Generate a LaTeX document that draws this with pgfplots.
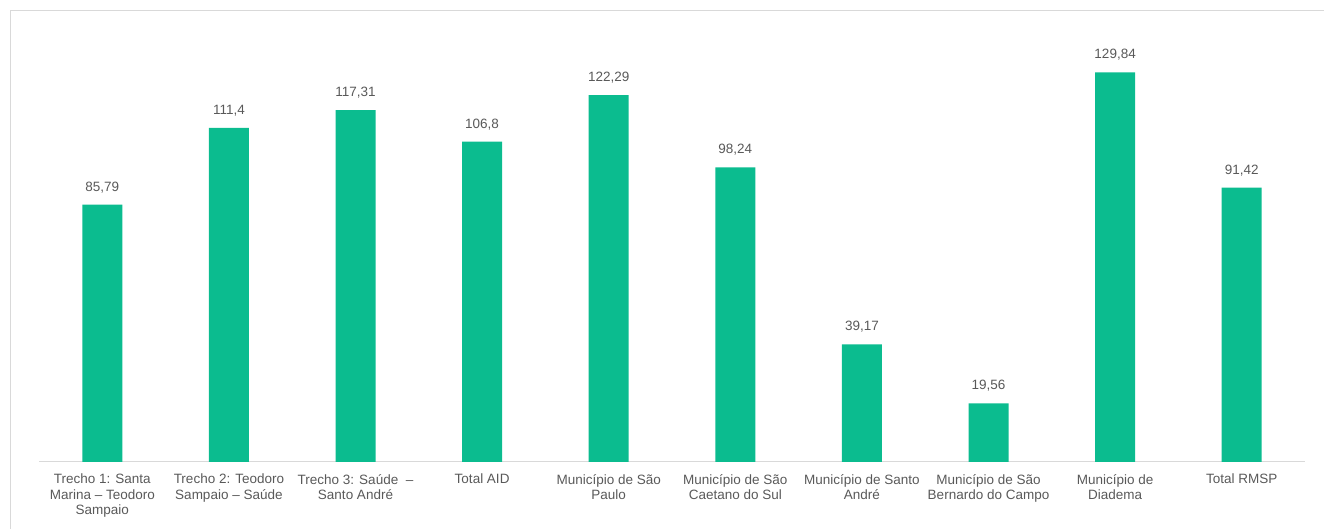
\documentclass[border=0pt]{standalone}
\usepackage{pgfplots}
\pgfplotsset{compat=1.18}
\usepackage{fontspec}
\setmainfont{Liberation Sans}
\definecolor{barcol}{HTML}{0BBC8F}
\definecolor{txtgray}{HTML}{595959}
\definecolor{linegray}{HTML}{D9D9D9}
\begin{document}
\begin{tikzpicture}[x=1pt,y=1pt]
\path[use as bounding box] (0,0) rectangle (1324,529);
\draw[linegray, line width=1pt] (10,0) -- (10,518) -- (1324,518);
\begin{axis}[
  at={(39pt,67pt)}, anchor=south west,
  scale only axis, width=1266pt, height=420pt,
  xmin=-0.5, xmax=9.5, ymin=0, ymax=140,
  axis y line=none, axis x line*=bottom,
  x axis line style={-, draw=linegray, line width=1pt},
  xtick=data, major tick length=0pt,
  xticklabels={{Trecho 1: Santa\\Marina – Teodoro\\Sampaio},
    {Trecho 2: Teodoro\\Sampaio – Saúde},
    {Trecho 3: Saúde \ –\\Santo André},
    {Total AID},
    {Município de São\\Paulo},
    {Município de São\\Caetano do Sul},
    {Município de Santo\\André},
    {Município de São\\Bernardo do Campo},
    {Município de\\Diadema},
    {Total RMSP}},
  xticklabel style={align=center, inner sep=0pt, yshift=-12pt, text=txtgray,
    font=\fontsize{13.5}{15.5}\selectfont},
  ybar, bar width=40pt,
  nodes near coords,
  every node near coord/.append style={anchor=base, yshift=13.5pt, inner sep=0pt,
    text=txtgray, font=\fontsize{13.5}{15.5}\selectfont},
  /pgf/number format/.cd, use comma, fixed, precision=2, 1000 sep={}, assume math mode=true,
]
\addplot[fill=barcol, draw=none] coordinates {
  (0,85.79) (1,111.4) (2,117.31) (3,106.8) (4,122.29)
  (5,98.24) (6,39.17) (7,19.56) (8,129.84) (9,91.42)};
\end{axis}
\end{tikzpicture}
\end{document}
